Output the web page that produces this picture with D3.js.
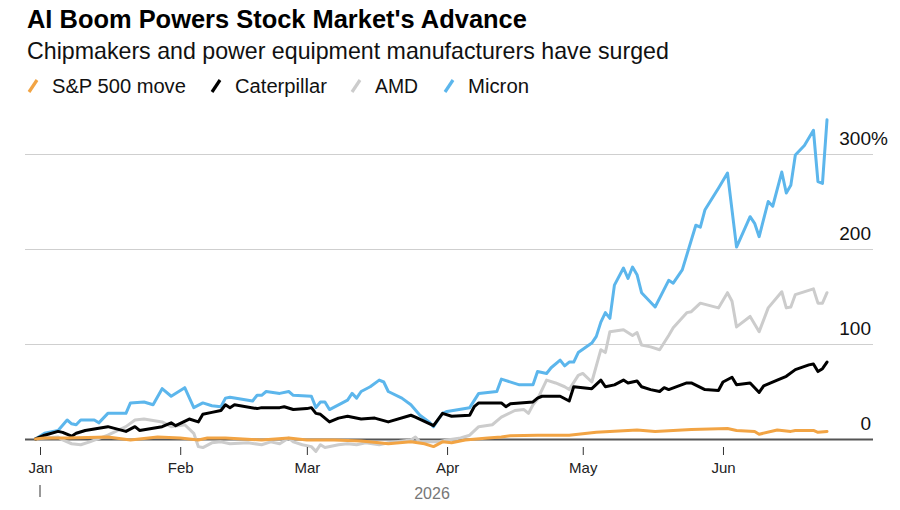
<!DOCTYPE html>
<html><head><meta charset="utf-8">
<script src="https://cdn.jsdelivr.net/npm/d3@7"></script>
<style>
html,body{margin:0;padding:0;background:#fff;}
svg{display:block;font-family:"Liberation Sans",Arial,sans-serif;}
</style></head>
<body><svg id="chart" width="900" height="510"></svg>
<script>
const seriesNames = ["S&P 500 move","Caterpillar","AMD","Micron"];
const seriesColors = ["#f2a444","#000000","#cccccc","#5cb6ec"];
const yTicks = [0,100,200,300];
const yearLabel = "2026";

const spx = [["2025-12-31",0],["2026-01-02",1],["2026-01-07",1],["2026-01-16",2],["2026-01-21",-1],["2026-01-27",2],["2026-02-01",1],["2026-02-05",-1],["2026-02-07",1],["2026-02-11",1],["2026-02-19",-1],["2026-02-25",1],["2026-03-01",-1],["2026-03-07",-1],["2026-03-13",-2],["2026-03-17",-4],["2026-03-19",-5],["2026-03-24",-3],["2026-03-27",-5],["2026-03-29",-8],["2026-03-31",-3],["2026-04-02",-4],["2026-04-05",-1],["2026-04-10",1],["2026-04-13",2],["2026-04-15",3.5],["2026-04-21",4],["2026-04-28",4],["2026-05-04",7],["2026-05-13",9.5],["2026-05-17",8],["2026-05-25",10],["2026-06-02",11],["2026-06-04",9],["2026-06-08",8],["2026-06-09",5],["2026-06-13",9.5],["2026-06-16",8],["2026-06-17",9],["2026-06-21",9],["2026-06-22",7],["2026-06-24",8]];

const caterpillar = [["2025-12-31",0],["2026-01-02",4],["2026-01-05",8],["2026-01-06",7],["2026-01-08",3],["2026-01-09",6],["2026-01-11",9],["2026-01-16",13],["2026-01-20",8],["2026-01-22",13],["2026-01-23",9],["2026-01-28",13],["2026-01-30",17],["2026-01-31",14],["2026-02-03",21],["2026-02-05",18],["2026-02-06",26],["2026-02-08",28],["2026-02-10",30],["2026-02-11",36],["2026-02-12",33],["2026-02-13",36],["2026-02-18",32],["2026-02-19",33],["2026-02-23",33],["2026-02-24",34],["2026-02-26",31],["2026-03-01",32],["2026-03-02",33],["2026-03-03",27],["2026-03-04",26],["2026-03-06",18],["2026-03-08",22],["2026-03-10",24],["2026-03-13",21],["2026-03-16",22],["2026-03-19",18],["2026-03-24",25],["2026-03-25",23],["2026-03-29",14],["2026-03-31",27],["2026-04-02",24],["2026-04-06",25],["2026-04-07",34],["2026-04-08",38],["2026-04-13",38],["2026-04-14",34],["2026-04-15",37],["2026-04-20",39],["2026-04-21",43],["2026-04-22",45],["2026-04-26",45],["2026-04-28",40],["2026-04-29",55],["2026-05-03",53],["2026-05-05",62],["2026-05-06",55],["2026-05-08",57],["2026-05-10",62],["2026-05-11",59],["2026-05-13",61],["2026-05-14",55],["2026-05-16",52],["2026-05-18",50],["2026-05-19",54],["2026-05-20",52],["2026-05-24",59],["2026-05-25",59],["2026-05-28",52],["2026-05-31",51],["2026-06-01",60],["2026-06-03",65],["2026-06-04",57],["2026-06-07",59],["2026-06-09",49],["2026-06-10",56],["2026-06-13",62],["2026-06-15",66],["2026-06-17",73],["2026-06-20",78],["2026-06-21",79],["2026-06-22",71],["2026-06-23",74],["2026-06-24",81]];

const amd = [["2025-12-31",0],["2026-01-02",1],["2026-01-05",2],["2026-01-06",-1],["2026-01-08",-5],["2026-01-10",-6],["2026-01-12",-3],["2026-01-16",4],["2026-01-20",13],["2026-01-22",20],["2026-01-24",21],["2026-01-28",18],["2026-01-30",13],["2026-02-02",15],["2026-02-04",6],["2026-02-05",-8],["2026-02-06",-9],["2026-02-08",-4],["2026-02-10",-3],["2026-02-12",-5],["2026-02-16",-4],["2026-02-19",-6],["2026-02-21",-3],["2026-02-23",-5],["2026-02-25",1],["2026-02-26",-3],["2026-02-28",-6],["2026-03-02",-8],["2026-03-03",-13],["2026-03-04",-6],["2026-03-05",-9],["2026-03-08",-6],["2026-03-10",-5],["2026-03-12",-6],["2026-03-14",-4],["2026-03-17",-6],["2026-03-19",-4],["2026-03-24",-1],["2026-03-25",2],["2026-03-26",-3],["2026-03-30",-3],["2026-04-01",-1],["2026-04-04",1],["2026-04-06",4],["2026-04-08",13],["2026-04-11",15],["2026-04-13",23],["2026-04-16",30],["2026-04-18",31],["2026-04-19",27],["2026-04-20",36],["2026-04-21",42],["2026-04-23",62],["2026-04-25",59],["2026-04-27",55],["2026-04-28",52],["2026-04-30",67],["2026-05-01",69],["2026-05-03",60],["2026-05-05",94],["2026-05-06",91],["2026-05-07",113],["2026-05-10",115],["2026-05-12",109],["2026-05-13",112],["2026-05-14",99],["2026-05-16",97],["2026-05-18",94],["2026-05-20",109],["2026-05-21",117],["2026-05-24",133],["2026-05-25",134],["2026-05-27",143],["2026-05-31",138],["2026-06-02",154],["2026-06-03",145],["2026-06-04",118],["2026-06-07",129],["2026-06-09",113],["2026-06-11",138],["2026-06-14",155],["2026-06-15",138],["2026-06-16",139],["2026-06-17",152],["2026-06-21",158],["2026-06-22",143],["2026-06-23",143],["2026-06-24",154]];

const micron = [["2025-12-31",0],["2026-01-02",6],["2026-01-05",9],["2026-01-07",20],["2026-01-08",16],["2026-01-09",15],["2026-01-10",20],["2026-01-13",20],["2026-01-14",17],["2026-01-16",27],["2026-01-20",27],["2026-01-21",38],["2026-01-24",39],["2026-01-26",36],["2026-01-28",53],["2026-01-30",45],["2026-02-02",54],["2026-02-04",33],["2026-02-06",38],["2026-02-08",35],["2026-02-10",34],["2026-02-11",43],["2026-02-12",44],["2026-02-17",40],["2026-02-18",46],["2026-02-19",46],["2026-02-20",50],["2026-02-23",48],["2026-02-25",50],["2026-02-26",46],["2026-03-02",45],["2026-03-03",33],["2026-03-04",39],["2026-03-05",39],["2026-03-06",31],["2026-03-10",41],["2026-03-11",48],["2026-03-12",43],["2026-03-13",50],["2026-03-15",55],["2026-03-17",62],["2026-03-18",60],["2026-03-19",50],["2026-03-22",43],["2026-03-24",36],["2026-03-26",25],["2026-03-28",18],["2026-03-29",13],["2026-03-30",20],["2026-03-31",27],["2026-04-01",29],["2026-04-06",33],["2026-04-08",48],["2026-04-12",50],["2026-04-13",63],["2026-04-17",57],["2026-04-20",57],["2026-04-21",71],["2026-04-23",69],["2026-04-24",75],["2026-04-26",83],["2026-04-27",77],["2026-04-28",81],["2026-04-29",81],["2026-04-30",91],["2026-05-03",101],["2026-05-04",108],["2026-05-05",123],["2026-05-06",133],["2026-05-07",127],["2026-05-08",162],["2026-05-10",180],["2026-05-11",169],["2026-05-12",181],["2026-05-13",173],["2026-05-14",154],["2026-05-17",139],["2026-05-20",167],["2026-05-21",164],["2026-05-23",178],["2026-05-26",225],["2026-05-27",223],["2026-05-28",241],["2026-05-31",264],["2026-06-02",280],["2026-06-04",202],["2026-06-07",234],["2026-06-08",227],["2026-06-09",213],["2026-06-11",250],["2026-06-12",245],["2026-06-14",281],["2026-06-15",259],["2026-06-16",267],["2026-06-17",299],["2026-06-19",309],["2026-06-21",325],["2026-06-22",271],["2026-06-23",269],["2026-06-24",336]];

const seriesData = [spx, caterpillar, amd, micron];

const svg = d3.select("#chart");
const parse = d3.utcParse("%Y-%m-%d");

const x = d3.scaleUtc()
  .domain([parse("2026-01-01"), parse("2026-07-01")])
  .range([40, 40 + 181 * 4.523]);
const y = d3.scaleLinear().domain([0, 300]).range([439, 154]);

function fit(sel, target) {
  const w = sel.node().getComputedTextLength();
  const fs = parseFloat(sel.attr("font-size"));
  sel.attr("font-size", (fs * target / w).toFixed(2));
}

// Title & subtitle
fit(svg.append("text").attr("x", 27).attr("y", 28).attr("font-size", 24)
  .attr("font-weight", "bold").attr("fill", "#000")
  .text("AI Boom Powers Stock Market's Advance"), 500);
fit(svg.append("text").attr("x", 27).attr("y", 59).attr("font-size", 19)
  .attr("fill", "#111")
  .text("Chipmakers and power equipment manufacturers have surged"), 642);

// Legend
const legendX = [27, 210, 350, 443];
const legendW = [134, 92, 43, 61];
seriesNames.forEach((n, i) => {
  const g = svg.append("g").attr("transform", `translate(${legendX[i]},86)`);
  g.append("line").attr("x1", 2).attr("y1", 6).attr("x2", 10).attr("y2", -6)
    .attr("stroke", seriesColors[i]).attr("stroke-width", 3.2).attr("stroke-linecap", "butt");
  fit(g.append("text").attr("x", 25).attr("y", 6.5).attr("font-size", 17)
    .attr("fill", "#111").text(n), legendW[i]);
});

// Y axis grid
const yAxis = d3.axisRight(y).tickValues(yTicks).tickSize(848).tickFormat(d => d);
const yg = svg.append("g").attr("transform", "translate(25,0)").call(yAxis);
yg.select(".domain").remove();
yg.selectAll(".tick line").attr("stroke", d => d === 0 ? "#555" : "#cfcfcf")
  .attr("stroke-width", d => d === 0 ? 2 : 1);
yg.selectAll(".tick text").attr("x", 846).attr("dy", -10).attr("text-anchor", "end")
  .attr("font-size", 19).attr("fill", "#111").attr("font-family", "Liberation Sans, Arial, sans-serif");
yg.selectAll(".tick").filter(d => d === 300).append("text")
  .attr("x", 846).attr("y", 0).attr("dy", -10).attr("text-anchor", "start")
  .attr("font-size", 19).attr("fill", "#111").attr("font-family", "Liberation Sans, Arial, sans-serif")
  .text("%");

// Lines
const line = d3.line().x(d => x(parse(d[0]))).y(d => y(d[1]));
const drawOrder = [2, 3, 1, 0];
drawOrder.forEach(i => {
  svg.append("path").datum(seriesData[i]).attr("d", line)
    .attr("fill", "none").attr("stroke", seriesColors[i])
    .attr("stroke-width", 3).attr("stroke-linejoin", "round").attr("stroke-linecap", "round");
});

// X axis
const xAxis = d3.axisBottom(x).ticks(d3.utcMonth.every(1))
  .tickFormat(d3.utcFormat("%b")).tickSize(8).tickPadding(7);
const xg = svg.append("g").attr("transform", "translate(0,447)").call(xAxis);
xg.select(".domain").remove();
xg.selectAll(".tick").filter(d => d.getUTCMonth() > 5).remove();
xg.selectAll(".tick line").attr("stroke", "#333").attr("stroke-width", 1);
xg.selectAll(".tick text").attr("font-size", 15).attr("fill", "#222")
  .attr("font-family", "Liberation Sans, Arial, sans-serif");

// Year marker
svg.append("line").attr("x1", x(parse("2026-01-01"))).attr("x2", x(parse("2026-01-01")))
  .attr("y1", 485).attr("y2", 497).attr("stroke", "#333").attr("stroke-width", 1);
svg.append("text").attr("x", 432).attr("y", 499).attr("text-anchor", "middle")
  .attr("font-size", 16).attr("fill", "#777").text(yearLabel);
</script></body></html>
